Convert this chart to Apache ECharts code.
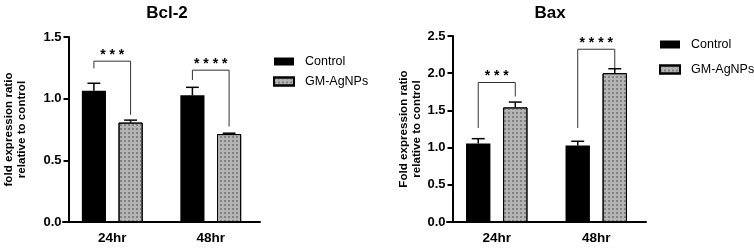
<!DOCTYPE html>
<html>
<head>
<meta charset="utf-8">
<script src="https://cdn.jsdelivr.net/npm/echarts@6/dist/echarts.min.js"></script>
<style>
    html, body { margin: 0; padding: 0; background: #fff; }
    #main { width: 754px; height: 248px; }
</style>
</head>
<body>
<div id="main"></div>
<script>
    // values
    var categories = ['24hr', '48hr'];

    var bclControl = [1.065, 1.027];
    var bclControlErr = [0.060, 0.065];
    var bclGM = [0.806, 0.713];
    var bclGMErr = [0.020, 0.007];

    var baxControl = [1.054, 1.027];
    var baxControlErr = [0.066, 0.058];
    var baxGM = [1.540, 2.000];
    var baxGMErr = [0.072, 0.060];

    // significance brackets: [category, top, left leg end, right leg end]
    var bclBrackets = [[0, 1.304, 1.245, 0.869], [1, 1.231, 1.151, 0.774]];
    var bclStars = ['* * *', '* * * *'];
    var baxBrackets = [[0, 1.875, 1.264, 1.687], [1, 2.322, 1.264, 2.068]];
    var baxStars = ['* * *', '* * * *'];

    var bclTicks = [0, 1.5, 0.5];
    var baxTicks = [0, 2.5, 0.5];

    var font = 'Liberation Sans, Arial, sans-serif';
    var BAR_W = 0.245;   // share of the band
    var BAR_GAP = 0.52;  // share of the bar width
    var OFFSET = (BAR_W + BAR_W * BAR_GAP) / 2;

    var dots = {
        symbol: 'circle',
        symbolSize: 0.9,
        color: '#6a6a6a',
        dashArrayX: [1.6, 1.8],
        dashArrayY: [1.6, 1.8],
        rotation: 0
    };

    function errRender(side) {
        return function (params, api) {
            var base = api.coord([api.value(0), api.value(1)]);
            var top = api.coord([api.value(0), api.value(2)]);
            var band = api.size([1, 0])[0];
            var x = base[0] + side * band * OFFSET;
            var hw = band * 0.065;
            return {
                type: 'group',
                children: [
                    {type: 'line', shape: {x1: x, y1: base[1], x2: x, y2: top[1]}, style: {stroke: '#000', lineWidth: 1.5}},
                    {type: 'line', shape: {x1: x - hw, y1: top[1], x2: x + hw, y2: top[1]}, style: {stroke: '#000', lineWidth: 1.5}}
                ]
            };
        };
    }

    function bracketRender(stars) {
        return function (params, api) {
            var c = api.coord([api.value(0), api.value(1)]);
            var l = api.coord([api.value(0), api.value(2)]);
            var r = api.coord([api.value(0), api.value(3)]);
            var band = api.size([1, 0])[0];
            var xl = c[0] - band * OFFSET;
            var xr = c[0] + band * OFFSET;
            return {
                type: 'group',
                children: [
                    {type: 'polyline', shape: {points: [[xl, l[1]], [xl, c[1]], [xr, c[1]], [xr, r[1]]]},
                        style: {stroke: '#333', lineWidth: 1, fill: null}},
                    {type: 'text', x: (xl + xr) / 2, y: c[1] - 6,
                        style: {text: stars[params.dataIndex], textAlign: 'center', textVerticalAlign: 'middle',
                            font: 'bold 14px ' + font, fill: '#000'}}
                ]
            };
        };
    }

    function errData(vals, errs) {
        return vals.map(function (v, i) { return [i, v, v + errs[i]]; });
    }

    function makeX(idx) {
        return {
            type: 'category', gridIndex: idx, data: categories,
            axisLine: {lineStyle: {color: '#000', width: 2}},
            axisTick: {alignWithLabel: true, length: 5, lineStyle: {color: '#000', width: 2}},
            axisLabel: {color: '#000', fontFamily: font, fontWeight: 'bold', fontSize: 13.5, margin: 9}
        };
    }

    function makeY(idx, ticks, name, gap) {
        return {
            type: 'value', gridIndex: idx, min: ticks[0], max: ticks[1], interval: ticks[2],
            offset: -5.5,
            name: name, nameLocation: 'middle', nameRotate: 90, nameGap: gap,
            nameTextStyle: {color: '#000', fontFamily: font, fontWeight: 'bold', fontSize: 11.6, lineHeight: 13},
            axisLine: {show: true, lineStyle: {color: '#000', width: 2}},
            axisTick: {show: true, length: 5, lineStyle: {color: '#000', width: 2}},
            splitLine: {show: false},
            axisLabel: {color: '#000', fontFamily: font, fontWeight: 'bold', fontSize: 13, margin: 7,
                formatter: function (v) { return v.toFixed(1); }}
        };
    }

    function legend(left, top, gap, idx) {
        return {
            orient: 'vertical', left: left, top: top, itemGap: gap, padding: 0,
            itemWidth: 20, itemHeight: 8, icon: 'rect',
            data: idx === 0 ? ['Control', 'GM-AgNPs'] : ['Control ', 'GM-AgNPs '],
            textStyle: {color: '#000', fontFamily: font, fontSize: 12.5, padding: [0, 0, 0, 6]}
        };
    }

    var chart = echarts.init(document.getElementById('main'));
    chart.setOption({
        animation: false,
        title: [
            {text: 'Bcl-2', left: 162, top: 0, textAlign: 'center',
                textStyle: {fontFamily: font, fontWeight: 'bold', fontSize: 17, color: '#000'}},
            {text: 'Bax', left: 545, top: 0, textAlign: 'center',
                textStyle: {fontFamily: font, fontWeight: 'bold', fontSize: 17, color: '#000'}}
        ],
        legend: [legend(273, 55, 7, 0), legend(659, 38, 12, 1)],
        grid: [
            {left: 63, top: 37, width: 197, height: 185},
            {left: 447, top: 36, width: 199, height: 186}
        ],
        xAxis: [makeX(0), makeX(1)],
        yAxis: [
            makeY(0, bclTicks, 'fold expression ratio\nrelative to control', 40),
            makeY(1, baxTicks, 'Fold expression ratio\nrelative to control', 21)
        ],
        series: [
            {name: 'Control', type: 'bar', xAxisIndex: 0, yAxisIndex: 0, data: bclControl,
                barWidth: BAR_W * 100 + '%', barGap: BAR_GAP * 100 + '%', itemStyle: {color: '#000'}},
            {name: 'GM-AgNPs', type: 'bar', xAxisIndex: 0, yAxisIndex: 0, data: bclGM,
                barWidth: BAR_W * 100 + '%', barGap: BAR_GAP * 100 + '%',
                itemStyle: {color: '#b4b4b4', borderColor: '#000', borderWidth: 1, decal: dots}},
            {type: 'custom', xAxisIndex: 0, yAxisIndex: 0, renderItem: errRender(-1),
                data: errData(bclControl, bclControlErr), z: 3},
            {type: 'custom', xAxisIndex: 0, yAxisIndex: 0, renderItem: errRender(1),
                data: errData(bclGM, bclGMErr), z: 3},
            {type: 'custom', xAxisIndex: 0, yAxisIndex: 0, renderItem: bracketRender(bclStars),
                data: bclBrackets, z: 4},

            {name: 'Control ', type: 'bar', xAxisIndex: 1, yAxisIndex: 1, data: baxControl,
                barWidth: BAR_W * 100 + '%', barGap: BAR_GAP * 100 + '%', itemStyle: {color: '#000'}},
            {name: 'GM-AgNPs ', type: 'bar', xAxisIndex: 1, yAxisIndex: 1, data: baxGM,
                barWidth: BAR_W * 100 + '%', barGap: BAR_GAP * 100 + '%',
                itemStyle: {color: '#b4b4b4', borderColor: '#000', borderWidth: 1, decal: dots}},
            {type: 'custom', xAxisIndex: 1, yAxisIndex: 1, renderItem: errRender(-1),
                data: errData(baxControl, baxControlErr), z: 3},
            {type: 'custom', xAxisIndex: 1, yAxisIndex: 1, renderItem: errRender(1),
                data: errData(baxGM, baxGMErr), z: 3},
            {type: 'custom', xAxisIndex: 1, yAxisIndex: 1, renderItem: bracketRender(baxStars),
                data: baxBrackets, z: 4}
        ]
    });
</script>
</body>
</html>
